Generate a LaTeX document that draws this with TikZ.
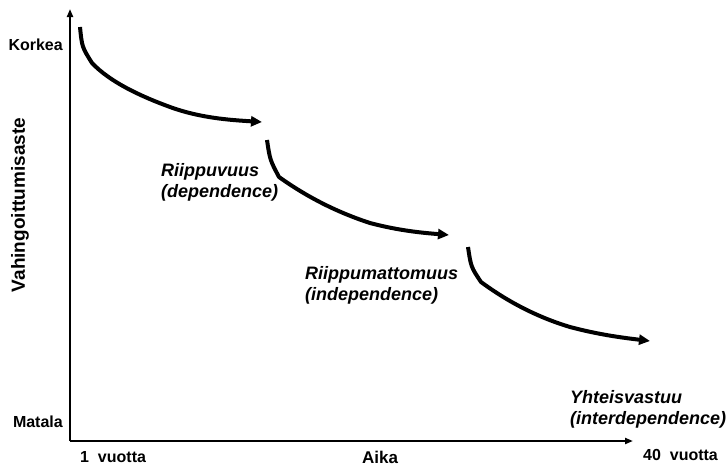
\documentclass[tikz,border=0pt]{standalone}
\usepackage{fontspec}
\setmainfont{Liberation Sans}
\usetikzlibrary{arrows.meta}
\begin{document}
\begin{tikzpicture}[x=1pt,y=-1pt,
  axis/.style={line width=2pt,-{Triangle[length=8pt,width=6pt]}},
  stage/.style={line width=4pt,line join=round,-{Triangle[length=11pt,width=10pt]}},
  lbl/.style={font=\bfseries\fontsize{16}{18}\selectfont,inner sep=0pt},
  phase/.style={font=\bfseries\itshape\fontsize{18}{21.5}\selectfont,align=left,anchor=north west,inner sep=0pt}]
\useasboundingbox (0,0) rectangle (726,466);
% axes
\coordinate (O) at (70,441);
\coordinate (ytop) at (70,9);
\coordinate (xend) at (633,441);
\draw[axis] (O) -- (ytop);
\draw[axis] (O) -- (xend);
% axis labels
\node[lbl,anchor=east] (korkea) at (63,45) {Korkea};
\node[lbl,anchor=east] (matala) at (63,422) {Matala};
\node[lbl,font=\bfseries\fontsize{19}{22}\selectfont,rotate=90] (yl) at (20,205) {Vahingoittumisaste};
\node[lbl,anchor=west] (t1) at (80,457) {1\ \ vuotta};
\node[lbl,font=\bfseries\fontsize{17}{20}\selectfont,anchor=base] (aika) at (380,463) {Aika};
\node[lbl,anchor=west] (t40) at (643,455) {40\ \ vuotta};
% three stages
\draw[stage] (80,27) .. controls (82,47) .. (92,63)
  .. controls (110,82) and (140,96) .. (170,107)
  .. controls (200,118) and (230,120) .. (262,122);
\draw[stage] (267,140) .. controls (270,160) .. (279,177)
  .. controls (300,192) and (330,210) .. (370,223)
  .. controls (400,231) and (425,233) .. (449,235);
\draw[stage] (468,247) .. controls (471,267) .. (481,282)
  .. controls (500,296) and (530,315) .. (570,327)
  .. controls (600,335) and (625,338) .. (650,341);
% stage labels
\node[phase] (s1) at (161,163) {Riippuvuus\\(dependence)};
\node[phase] (s2) at (305,266) {Riippumattomuus\\(independence)};
\node[phase] (s3) at (570,390) {Yhteisvastuu\\(interdependence)};
\end{tikzpicture}
\end{document}
